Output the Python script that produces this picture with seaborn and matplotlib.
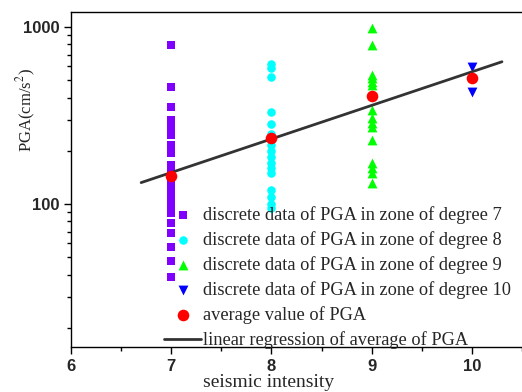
import numpy as np
import pandas as pd
import matplotlib
matplotlib.use("Agg")
import matplotlib.pyplot as plt
import seaborn as sns

# PGA values (cm/s^2), per seismic intensity zone
pga_7 = [795, 460, 355, 298, 274, 246, 215, 195, 166, 155, 150, 142, 136, 130,
         124, 118, 112, 106, 101, 96, 92, 89, 78, 69, 57, 48, 39]
pga_8 = [620, 590, 520, 330, 285, 250, 230, 215, 200, 185, 170, 160, 150,
         120, 110, 100, 95]
pga_9 = [986, 790, 535, 515, 490, 470, 340, 307, 286, 272, 230, 170, 160, 150, 131]
pga_10 = [594, 430]

avg_x = [7, 8, 9, 10]
avg_pga = [144, 236, 407, 515]
fit_x = [6.7, 10.3]

labels = ["discrete data of PGA in zone of degree 7",
          "discrete data of PGA in zone of degree 8",
          "discrete data of PGA in zone of degree 9",
          "discrete data of PGA in zone of degree 10"]

sns.set_style("ticks")
plt.rcParams['font.family'] = ['Liberation Serif', 'DejaVu Serif']
plt.rcParams['mathtext.fontset'] = 'stix'

fig = plt.figure(figsize=(5.22, 3.92), dpi=100)
ax = fig.add_axes([0.136, 0.115, 0.864, 0.854])

groups = [(7, pga_7, "s", "#7f00ff", 30),
          (8, pga_8, "o", "#00ffff", 38),
          (9, pga_9, "^", "#00ff00", 50),
          (10, pga_10, "v", "#0000ff", 50)]
for (x, vals, mk, col, sz), lab in zip(groups, labels):
    df = pd.DataFrame({"x": [x] * len(vals), "pga": vals})
    sns.scatterplot(data=df, x="x", y="pga", marker=mk, color=col, s=sz,
                    linewidth=0, label=lab, ax=ax, zorder=3)

avg_df = pd.DataFrame({"x": avg_x, "pga": avg_pga})
sns.scatterplot(data=avg_df, x="x", y="pga", marker="o", color="#ff0000", s=70,
                linewidth=0, label="average value of PGA", ax=ax, zorder=5)

# linear regression of log10(average) against intensity
k, b = np.polyfit(avg_x, np.log10(avg_pga), 1)
line_df = pd.DataFrame({"x": fit_x, "pga": 10 ** (k * np.array(fit_x) + b)})
sns.lineplot(data=line_df, x="x", y="pga", color="#333333", linewidth=2,
             label="linear regression of average of PGA", ax=ax, zorder=4)

ax.set_yscale("log")
ax.set_xlim(6, 10.476)
ax.set_ylim(15.6, 1216)
ax.set_xticks([6, 7, 8, 9, 10])
ax.set_xticks([6.5, 7.5, 8.5, 9.5, 10.5], minor=True)
ax.set_yticks([100, 1000])
ax.set_yticklabels(["100", "1000"])
ax.tick_params(which="major", direction="out", length=5, width=1, color="black")
ax.tick_params(which="minor", direction="out", length=3, width=1, color="black")
for t in ax.get_xticklabels() + ax.get_yticklabels():
    t.set_fontfamily("Liberation Sans")
    t.set_fontweight("bold")
    t.set_fontsize(12)
ax.spines["right"].set_visible(False)
for s in ["left", "bottom", "top"]:
    ax.spines[s].set_color("black")
    ax.spines[s].set_linewidth(1)

ax.set_xlabel("seismic intensity", fontsize=14)
ax.set_ylabel("PGA(cm/s$^2$)", fontsize=12)
ax.xaxis.set_label_coords(0.439, -0.08)
ax.yaxis.set_label_coords(-0.073, 0.707)

ax.legend(loc="upper left", bbox_to_anchor=(0.207, 0.421), frameon=False,
          fontsize=13.2, handlelength=2, handletextpad=0.1, labelspacing=0.39,
          borderaxespad=0, borderpad=0)

fig.savefig("out.png", dpi=100)
